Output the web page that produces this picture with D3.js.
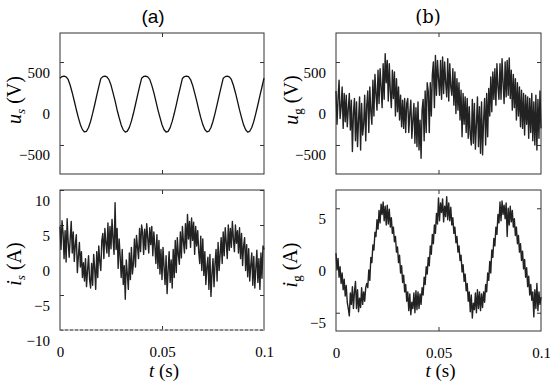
<!DOCTYPE html>
<html>
<head>
<meta charset="utf-8">
<style>
  body { margin: 0; background: #fff; }
  svg { display: block; }
</style>
</head>
<body>
<svg id="chart" width="550" height="381"></svg>

<script src="https://d3js.org/d3.v7.min.js"></script>
<script>
    // data
    const titles = ['(a)', '(b)'];
    const xTicks = [0, 0.05, 0.1];
    const xTickLabels = ['0', '0.05', '0.1'];
    const uTicks = [-500, 0, 500];
    const isTicks = [-10, -5, 0, 5, 10];
    const igTicks = [-5, 0, 5];

    // u_s, sampled every 1 ms
    const usStep = 0.001;
    const usVals = [
      305, 325, 330, 322, 290, 220, 130, 30, -75, -170, -255, -315, -343, -335, -290, -215, -120, -15, 95, 200,
      300, 324, 331, 320, 288, 222, 128, 32, -78, -172, -258, -318, -345, -333, -288, -212, -118, -12, 98, 203,
      304, 326, 330, 321, 291, 219, 131, 28, -76, -168, -256, -316, -344, -336, -291, -216, -121, -16, 94, 198,
      302, 325, 331, 323, 289, 221, 129, 31, -74, -171, -254, -314, -342, -334, -289, -214, -119, -14, 96, 201,
      303, 324, 330, 322, 290, 220, 130, 29, -77, -170, -257, -317, -345, -335, -290, -215, -120, -15, 95, 199,
      305
    ];

    // i_s, u_g, i_g, sampled every 0.5 ms
    const noiseStep = 0.0005;
    const isVals = [
      4.8, 1.5, 5.6, 3.9, 0.2, 4.2, -0.3, 5.9, 2.6, 0.4,
      3.0, 5.5, 1.0, 4.0, -0.2, 2.2, 3.6, -1.8, 0.5, 2.5,
      -1.0, 1.2, -2.5, -0.4, -3.0, 0.2, -3.8, -1.5, 0.6, -2.8,
      -4.0, -0.5, -3.6, 0.8, -1.2, -4.2, 1.2, -2.5, 2.0, -0.2,
      -1.5, 2.8, 3.8, 0.2, 4.5, 2.4, 1.0, 5.3, 0.5, 4.8,
      1.6, 5.8, 3.0, 0.8, 8.2, 1.5, 4.5, -1.2, 3.0, 0.5,
      -2.5, 1.5, -3.5, -0.8, -5.6, 0.0, -2.0, -4.2, 1.0, -2.8,
      1.8, -2.0, -0.5, 3.0, -1.0, 3.5, 1.8, 0.2, 4.5, 1.2,
      5.0, 4.0, 0.8, 4.4, 1.5, 5.2, 3.2, 1.0, 4.6, 2.2,
      4.8, 0.6, 4.0, 2.0, -0.5, 3.6, -1.2, 2.8, -2.0, 1.5,
      -2.8, 1.8, -1.0, -3.5, 0.6, -4.8, -1.5, 1.2, -3.2, 0.0,
      -4.0, 1.5, -2.5, 2.8, -1.8, 3.2, 0.8, -0.6, 4.0, 0.3,
      4.8, 2.6, 1.0, 5.2, 1.6, 6.5, 3.0, 5.5, 1.8, 6.0,
      2.8, 5.4, 0.8, 4.8, 2.0, 4.2, 1.2, -0.5, 3.4, -1.5,
      3.0, -2.2, 1.2, -3.5, -1.0, 0.4, -4.2, 0.8, -5.2, -2.0,
      0.2, -3.8, -0.5, 1.5, -3.0, 2.5, -1.5, 0.8, 3.2, -0.5,
      4.0, 0.6, 4.6, 2.5, 0.2, 5.0, 1.4, 4.5, 1.8, 5.5,
      3.0, 1.2, 5.0, 2.4, 4.2, 1.0, 4.6, 0.2, 3.8, -0.8,
      2.0, 3.2, -1.5, 2.2, -2.4, 1.6, -3.0, -0.8, 1.0, -3.6,
      0.5, -4.0, -1.2, 1.4, -3.2, 0.2, -4.2, 1.0, -2.6, 2.0, 1.5
    ];
    const ugVals = [
      150, -250, 60, 280, -180, -40, 200, -300, 120, -220,
      100, -280, -60, 120, -320, 40, -580, -120, 60, -450,
      20, -520, -200, 80, -560, 0, -380, -250, 100, -450,
      -20, 150, -350, 200, -100, -250, 280, -150, 350, 120,
      -80, 400, 0, 420, 200, -50, 480, 50, 600, 250,
      520, 30, 480, 150, -50, 400, 60, 380, -150, 300,
      -100, 200, -200, 100, -280, 40, -300, 60, -350, 0,
      60, -350, -120, 40, -420, -200, 0, -480, -50, -520,
      20, -560, -200, -660, -80, 50, -450, 150, -350, 250,
      150, -350, 250, -150, 350, 500, -50, 580, 100, 520,
      300, 100, 520, 50, 560, 120, 500, 250, 80, 540,
      30, 480, 200, 100, 420, -20, 380, -120, 300, -80,
      250, -200, 160, -400, 120, -250, 80, -350, 60, -420,
      -40, -380, -500, 50, -480, 0, -550, -250, 80, -520,
      -40, -600, 20, -620, -200, 60, -500, 120, -400, 180,
      -150, 320, -100, 380, 50, 420, -20, 480, 200, 50,
      480, 50, 540, 250, 0, 500, 80, 520, 100, 550,
      60, 400, -80, 350, -50, 300, -200, 250, -150, 200,
      -280, 160, -300, 120, -380, 100, -250, 80, -420, 60,
      -350, 120, -450, 20, -500, 100, -560, 50, -420, 150, -300
    ];
    const igVals = [
      0.7, -0.9, 0.2, -1.6, -0.6, -2.2, -1.2, -2.8, -1.8, -3.4,
      -2.4, -4.0, -4.6, -5.3, -3.1, -4.2, -2.5, -4.6, -3.0, -2.0,
      -4.6, -2.8, -4.9, -3.6, -4.5, -2.6, -4.2, -3.0, -3.9, -2.6,
      -2.2, -2.6, -0.9, -1.9, 0.3, -0.2, 1.5, 1.0, 2.7, 2.3,
      3.9, 3.0, 4.8, 3.6, 5.4, 4.4, 5.6, 3.8, 5.2, 3.4,
      5.3, 3.5, 4.9, 3.2, 4.1, 2.6, 3.2, 1.8, 2.3, 0.8,
      1.3, -0.2, 0.5, -1.2, -0.5, -2.1, -1.4, -3.0, -2.3, -3.9,
      -3.0, -4.8, -3.2, -5.2, -4.0, -4.6, -3.1, -5.0, -2.9, -4.7,
      -3.0, -4.6, -3.2, -4.2, -2.6, -3.3, -1.6, -2.3, -0.6, -1.3,
      0.3, -0.5, 1.4, 0.6, 2.5, 1.6, 3.4, 2.6, 4.5, 3.5,
      6.0, 3.8, 5.5, 4.6, 5.9, 3.7, 5.2, 4.2, 6.1, 3.9,
      5.5, 3.8, 5.1, 3.4, 4.1, 2.6, 3.2, 1.7, 2.3, 0.8,
      1.4, 0.0, 0.5, -1.1, -0.4, -2.0, -1.3, -2.9, -2.2, -3.9,
      -3.0, -4.9, -3.3, -5.5, -4.1, -4.7, -3.1, -5.0, -2.8, -4.6,
      -3.0, -4.8, -3.2, -4.5, -3.0, -4.0, -2.3, -3.0, -1.2, -1.9,
      -0.1, -1.2, 1.0, 0.3, 2.1, 1.4, 3.2, 2.5, 4.4, 3.6,
      5.6, 3.8, 5.7, 4.4, 5.3, 4.0, 5.5, 2.3, 5.0, 3.4,
      5.2, 3.7, 4.8, 3.2, 4.0, 2.4, 3.2, 1.6, 2.4, 0.8,
      1.6, 0.0, 0.9, -0.8, 0.1, -1.6, -0.7, -2.5, -1.5, -3.3,
      -2.3, -3.8, -3.0, -5.4, -2.8, -4.6, -2.2, -4.8, -3.0, -4.2, -3.5
    ];

    const svg = d3.select('#chart');
    const serif = '"Liberation Serif", "Times New Roman", serif';

    // panel boxes (pixels)
    const panels = [
      {x0: 60,  x1: 264, y0: 33,  y1: 174, vals: usVals, step: usStep,    dom: [-850, 850],   ticks: uTicks,  sym: 'u', sub: 's', unit: '(V)', ly: 100, lx: 21,  xlab: false},
      {x0: 336, x1: 541, y0: 33,  y1: 174, vals: ugVals, step: noiseStep, dom: [-850, 850],   ticks: uTicks,  sym: 'u', sub: 'g', unit: '(V)', ly: 100, lx: 298, xlab: false},
      {x0: 60,  x1: 264, y0: 190, y1: 330, vals: isVals, step: noiseStep, dom: [-10, 10],     ticks: isTicks, sym: 'i', sub: 's', unit: '(A)', ly: 264, lx: 21,  xlab: true},
      {x0: 336, x1: 541, y0: 190, y1: 331, vals: igVals, step: noiseStep, dom: [-6.75, 6.75], ticks: igTicks, sym: 'i', sub: 'g', unit: '(A)', ly: 265, lx: 297, xlab: true}
    ];

    panels.forEach(function(p, k){
      const x = d3.scaleLinear().domain([0, 0.1]).range([p.x0, p.x1]);
      const y = d3.scaleLinear().domain(p.dom).range([p.y1, p.y0]);
      const g = svg.append('g');

      // inward ticks on all four sides
      const leftAxis = g.append('g').attr('transform', `translate(${p.x0},0)`)
        .call(d3.axisLeft(y).tickValues(p.ticks).tickSize(-4).tickPadding(10).tickFormat(d3.format('d')));
      g.append('g').attr('transform', `translate(${p.x1},0)`)
        .call(d3.axisRight(y).tickValues(p.ticks).tickSize(-4).tickFormat(''));
      g.append('g').attr('transform', `translate(0,${p.y0})`)
        .call(d3.axisTop(x).tickValues([0.05]).tickSize(-4).tickFormat(''));
      g.append('g').attr('transform', `translate(0,${p.y1})`)
        .call(d3.axisBottom(x).tickValues(p.xlab ? xTicks : [0.05]).tickSize(-4).tickPadding(16)
          .tickFormat((d, i) => p.xlab ? xTickLabels[i] : ''));
      g.selectAll('.domain').remove();
      g.selectAll('.tick line').filter(d => d === 0 || d === 0.1).remove();
      g.selectAll('.tick line').style('stroke', '#333');
      g.selectAll('.tick text')
        .style('font-family', serif).style('font-size', '15px').style('fill', '#000');
      // labels sit a little below their ticks, as in the original figure
      leftAxis.selectAll('.tick text').attr('dy', 15);

      // frame
      g.append('rect')
        .attr('x', p.x0).attr('y', p.y0)
        .attr('width', p.x1 - p.x0).attr('height', p.y1 - p.y0)
        .style('fill', 'none').style('stroke', '#333').style('stroke-width', 1);
      if (k === 2) {
        g.append('line').attr('x1', p.x0).attr('x2', p.x1).attr('y1', p.y1).attr('y2', p.y1)
          .style('stroke', '#fff').style('stroke-width', 1.2);
        g.append('line').attr('x1', p.x0).attr('x2', p.x1).attr('y1', p.y1).attr('y2', p.y1)
          .style('stroke', '#444').style('stroke-width', 1.2).style('stroke-dasharray', '3,2');
      }

      // signal
      const line = d3.line()
        .x((d, i) => x(i * p.step))
        .y(d => y(d));
      g.append('path')
        .datum(p.vals)
        .attr('d', line)
        .style('fill', 'none')
        .style('stroke', k === 0 ? '#111' : '#222')
        .style('stroke-width', k === 0 ? 1.3 : 1.4)
        .style('stroke-linejoin', 'round');

      // y label
      const lab = svg.append('text')
        .attr('transform', `translate(${p.lx},${p.ly}) rotate(-90)`)
        .attr('text-anchor', 'middle')
        .style('font-family', serif)
        .style('font-size', '20px');
      lab.append('tspan').style('font-style', 'italic').text(p.sym);
      lab.append('tspan').attr('dy', 4).style('font-size', '13px').style('font-style', p.sub === 's' ? 'italic' : 'normal').text(p.sub);
      lab.append('tspan').attr('dy', -4).text('\u00a0' + p.unit);

      // x label
      if (p.xlab) {
        const xl = svg.append('text')
          .attr('x', (p.x0 + p.x1) / 2 + 2).attr('y', 377)
          .attr('text-anchor', 'middle')
          .style('font-family', serif)
          .style('font-size', '19px');
        xl.append('tspan').style('font-style', 'italic').text('t');
        xl.append('tspan').text(' (s)');
      }
    });

    // panel titles
    svg.append('text').attr('x', 153).attr('y', 23).attr('text-anchor', 'middle')
      .style('font-family', '"Liberation Sans", sans-serif').style('font-size', '19px').text(titles[0]);
    svg.append('text').attr('x', 428).attr('y', 23).attr('text-anchor', 'middle')
      .style('font-family', '"DejaVu Serif", serif').style('font-size', '18px').text(titles[1]);
</script>
</body>
</html>
